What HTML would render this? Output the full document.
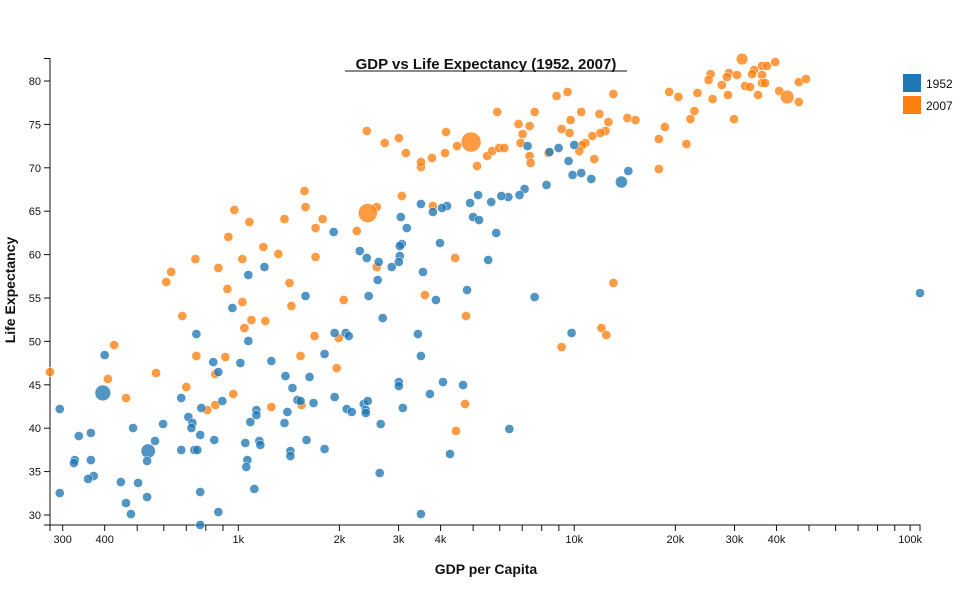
<!DOCTYPE html>
<html><head><meta charset="utf-8">
<style>
html,body{margin:0;padding:0;background:#fff;}
svg{display:block;font-family:"Liberation Sans",sans-serif;}
</style></head>
<body>
<svg id="chart" width="974" height="589" viewBox="0 0 974 589" xmlns="http://www.w3.org/2000/svg">
<text x="486" y="69" text-anchor="middle" font-size="15" font-weight="bold" fill="#111">GDP vs Life Expectancy (1952, 2007)</text>
<line x1="345" y1="71" x2="627" y2="71" stroke="#111" stroke-width="1"/>
<text transform="translate(15,290) rotate(-90)" text-anchor="middle" font-size="14" font-weight="bold" fill="#111">Life Expectancy</text>
<text x="486" y="574" text-anchor="middle" font-size="14" font-weight="bold" fill="#111">GDP per Capita</text>
<g id="yaxis"></g>
<g id="xaxis"></g>
<g id="marks"></g>
<g>
<rect x="903" y="74" width="18" height="18" fill="#1f77b4"/>
<text x="926" y="88" font-size="12" fill="#111">1952</text>
<rect x="903" y="96" width="18" height="18" fill="#ff7f0e"/>
<text x="926" y="110" font-size="12" fill="#111">2007</text>
</g>
</svg>
<script>
const gdp2007=[610,928,1420,1028,1439,681,1094,1204,1042,427,1686,750,915,1532,1962,275,569,854,409,700,463,966,808,854,1254,1542,1990,
2060,3594,4764,13080,12050,12460,9169,4731,4447,
1574,1585,973,1079,1372,1782,1698,934,1187,1316,1028,745,872,1698,631,3496,
2412,2728,3005,3152,3496,3770,4152,4124,4478,4930,5136,5506,5699,5980,6191,5898,6826,7364,7017,6921,7364,7414,7622,8384,8860,9554,9753,9169,9686,10490,11880,12640,12380,11960,11320,10790,10570,10350,11470,13080,14400,3067,2582,2429,2252,3796,4417,2582,
31600,39660,36240,37500,34300,33830,36240,25470,25120,28870,28470,30520,27500,32260,33380,36240,36990,46620,48960,19160,20420,23270,25820,28680,35260,40770,43050,46620,22800,22180,29890,18610,17860,21580,15220,17860];
const life2007=[56.84,56.04,56.73,54.54,54.08,52.92,52.46,52.35,51.54,49.58,50.62,48.32,48.2,48.32,46.93,46.47,46.36,46.24,45.67,44.75,43.48,43.94,42.09,42.67,42.44,42.67,50.39,
54.77,55.34,52.92,56.73,51.54,50.74,49.35,42.79,39.68,
67.33,65.48,65.14,63.75,64.1,64.1,63.06,62.03,60.87,60.07,59.49,59.49,58.46,59.72,58.0,70.09,
74.24,72.86,73.43,71.7,70.67,71.13,74.12,71.7,72.51,72.97,70.21,71.36,71.93,72.28,72.28,76.43,75.04,74.81,73.89,72.86,71.36,70.55,76.43,71.7,78.27,78.73,75.5,74.47,74.01,76.43,76.2,75.27,74.24,74.01,73.66,72.86,72.63,71.93,71.01,78.5,75.74,66.75,65.48,64.79,62.72,65.6,59.61,58.57,
82.53,82.19,81.73,81.73,81.27,80.8,80.69,80.8,80.11,80.92,80.46,80.69,79.54,79.42,79.31,79.77,79.77,79.88,80.23,78.73,78.16,78.62,77.92,78.39,78.39,78.85,78.16,77.58,76.54,75.62,75.62,74.7,73.32,72.74,75.51,69.86];
const pop2007Big={61:1318,95:1110,100:127,126:301};
const gdp1952=[1585,960,750,1071,1935,400,842,872,1014,1254,1806,1381,1629,1449,1935,395,676,776,294,896,1500,1532,1674,1132,1400,1132,710,730,725,597,486,1086,1372,770,335,364,565,848,1049,1155,1163,1596,539,676,740,755,1806,326,324,364,535,1064,1056,1429,1429,371,357,447,503,770,1116,294,463,535,479,872,770,
2600,2445,4797,3875,7622,2691,2088,2132,3425,9820,3496,3005,3005,4067,4667,3718,2103,2176,2363,2429,2396,2396,3088,2654,6408,4268,2636,3496,
1196,1071,
7263,8984,8441,10000,9620,9888,10490,11240,13820,14490,8270,7115,6873,6364,6065,5660,5172,4897,4181,4039,3796,3496,3046,3174,4998,5207,5858,1922,2299,2412,2618,3067,3025,3025,3005,2862,3545,3984,5544,
107000];
const life1952=[55.23,53.85,50.85,50.05,50.97,48.43,47.62,46.47,47.51,47.74,48.55,46.01,45.9,44.63,43.59,44.06,43.48,42.33,42.21,43.13,43.25,43.13,42.9,42.09,41.87,41.52,41.29,40.6,40.02,40.48,40.02,40.71,40.6,39.22,39.1,39.45,38.53,38.64,38.3,38.53,38.07,38.64,37.37,37.49,37.49,37.49,37.6,36.33,35.99,36.33,36.22,36.33,35.53,37.37,36.79,34.49,34.15,33.8,33.69,32.65,33.0,32.53,31.38,32.07,30.11,30.34,28.85,
57.07,55.23,55.92,54.77,55.11,52.69,50.97,50.62,50.85,50.97,48.32,45.32,44.86,45.32,44.97,43.94,42.21,41.87,42.79,43.13,42.09,41.75,42.33,40.48,39.91,37.03,34.84,30.11,
58.57,57.65,
72.51,72.28,71.82,72.63,70.78,69.17,69.4,68.71,68.36,69.63,68.02,67.56,66.86,66.63,66.75,66.06,66.86,65.94,65.6,65.37,64.91,65.83,64.33,63.06,64.33,63.98,62.49,62.6,60.41,59.61,59.15,61.22,60.99,59.84,59.15,58.57,58.0,61.33,59.38,
55.57];
const pop1952Big={15:556,42:372,105:158};
const yTicks=[30,35,40,45,50,55,60,65,70,75,80];
const xTickVals=[300,400,500,600,700,800,900,1000,2000,3000,4000,5000,6000,7000,8000,9000,10000,20000,30000,40000,50000,60000,70000,80000,90000,100000];
const xTickLabels={300:"300",400:"400",1000:"1k",2000:"2k",3000:"3k",4000:"4k",10000:"10k",20000:"20k",30000:"30k",40000:"40k",100000:"100k"};

const NS="http://www.w3.org/2000/svg";
const allG=gdp2007.concat(gdp1952), allL=life2007.concat(life1952);
const gMin=Math.min(...allG), gMax=Math.max(...allG);
function xS(v){return 50+(Math.log10(v)-Math.log10(gMin))/(Math.log10(gMax)-Math.log10(gMin))*870;}
function yS(v){return 81+(80-v)*8.68;}
function rS(p){return 4+6*Math.sqrt(p/1318);}
function mk(t,a,p){const e=document.createElementNS(NS,t);for(const k in a)e.setAttribute(k,a[k]);p.appendChild(e);return e;}

const ya=document.getElementById('yaxis');
const yTop=yS(Math.max(...allL))-0.5, yBot=525;
const yl=mk('path',{d:`M44,${yTop}H50V${yBot}H44`,fill:'none',stroke:'#111','stroke-width':1},ya);


yTicks.forEach(t=>{
  const y=yS(t);
  const l=mk('line',{x1:44,x2:50,y1:y,y2:y,stroke:'#111'},ya);
  
  
  const tx=mk('text',{x:41,y:y+4,'text-anchor':'end','font-size':11,fill:'#111'},ya);
  tx.textContent=t;
  
  
});
const xa=document.getElementById('xaxis');
const xl=mk('path',{d:'M50,531V525H920V531',fill:'none',stroke:'#111','stroke-width':1},xa);


xTickVals.forEach(v=>{
  const x=xS(v);
  const l=mk('line',{x1:x,x2:x,y1:525,y2:531,stroke:'#111'},xa);
  
  
  if(xTickLabels[v]){
    const tx=mk('text',{x:x,y:543,'text-anchor':'middle','font-size':11,fill:'#111'},xa);
    tx.textContent=xTickLabels[v];
    
    
  }
});
const mg=document.getElementById('marks');
function series(gs,ls,big,col,name){
  gs.forEach((g,i)=>{
    const p=big[i]||12;
    const c=mk('circle',{cx:xS(g),cy:yS(ls[i]),r:rS(p),fill:col,'fill-opacity':0.78,stroke:'#fff','stroke-width':0.5},mg);
    
    
  });
}
series(gdp2007,life2007,pop2007Big,'#ff7f0e','point-2007');
series(gdp1952,life1952,pop1952Big,'#1f77b4','point-1952');
</script>
</body></html>
